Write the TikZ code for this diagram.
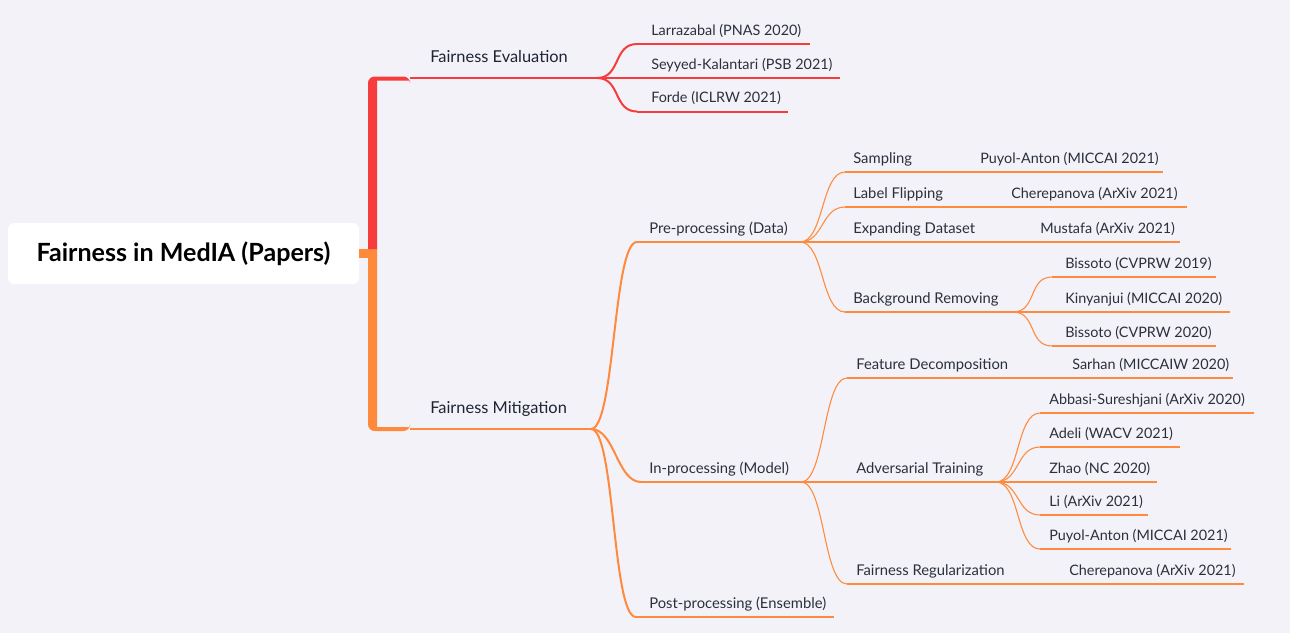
\documentclass[tikz,border=0pt]{standalone}
\usepackage{fontspec}
\setmainfont{Lato}
\usepackage{tikz}
\usetikzlibrary{calc}
\definecolor{mapbg}{HTML}{F3F2F8}
\definecolor{evalred}{HTML}{F63C3C}
\definecolor{mitorange}{HTML}{FF8A3B}
\definecolor{topicink}{HTML}{1D2434}
\definecolor{leafink}{HTML}{2B303C}
% underlined topic: line style, text style, name, x from, x to, y, text x, text
\newcommand{\topic}[8]{%
  \coordinate (#3A) at (#4,#6);
  \coordinate (#3B) at (#5,#6);
  \draw[#1] (#3A) -- (#3B);
  \node[#2] (#3) at (#7,#6) {#8};}
% curved link from a branch point to the start of a child line
\newcommand{\curvelink}[3][]{%
  \draw[#1] (#2) .. controls ($(#2)+(24,0)$) and ($(#3)-(24,0)$) .. (#3);}

\begin{document}
\begin{tikzpicture}[x=0.75pt, y=-0.75pt,
    rootbox/.style={fill=white, rounded corners=4.5pt, inner sep=0pt,
      minimum width=263.25pt, minimum height=45.75pt,
      font=\fontsize{18.8}{22}\selectfont\bfseries, text=black},
    mainlbl/.style={anchor=base west, inner sep=0pt, yshift=11.6pt,
      font=\fontsize{12.3}{14}\selectfont, text=topicink},
    lbl/.style={anchor=base west, inner sep=0pt, yshift=6.4pt,
      font=\fontsize{11.1}{13}\selectfont, text=leafink},
    paper/.style={lbl, font=\fontsize{10.8}{13}\selectfont},
    redline/.style={evalred, line width=1.5pt},
    orline/.style={mitorange, line width=1.5pt},
    orthin/.style={mitorange, line width=0.8pt}]

  \fill[mapbg] (0,0) rectangle (1290,633);

  % root
  \node[rootbox] (root) at (183.5,253.5) {Fairness in MedIA (Papers)};

  % trunks
  \draw[mitorange, line width=6.75pt] (root.east) -- ++(18,0);
  \fill[evalred] (368,249.3) [rounded corners=5pt] -- (368,76.5) -- (410,76.5)
    [sharp corners] -- (410,80.5) -- (377,80.5) -- (377,249.3) -- cycle;
  \fill[mitorange] (368,249.3) [rounded corners=5pt] -- (368,431) -- (410,431)
    [sharp corners] -- (410,427) -- (377,427) -- (377,249.3) -- cycle;

  % Fairness Evaluation
  \topic{redline}{mainlbl}{eval}{410}{597}{78}{430}{Fairness Evaluation}
  \topic{redline}{paper}{lar}{637}{810}{44}{651}{Larrazabal (PNAS 2020)}
  \topic{redline}{paper}{sey}{597}{840}{78}{651}{Seyyed-Kalantari (PSB 2021)}
  \topic{redline}{paper}{forde}{637}{788}{111.5}{651}{Forde (ICLRW 2021)}
  \curvelink[redline]{evalB}{larA}
  \curvelink[redline]{evalB}{fordeA}

  % Fairness Mitigation
  \topic{orline}{mainlbl}{mitig}{410}{591}{429}{430}{Fairness Mitigation}
  \topic{orline}{lbl}{pre}{637}{800}{242}{649}{Pre-processing (Data)}
  \topic{orline}{lbl}{inp}{641}{801}{482}{649}{In-processing (Model)}
  \topic{orline}{lbl}{post}{636}{834}{617}{649}{Post-processing (Ensemble)}
  \curvelink[orline]{mitigB}{preA}
  \curvelink[orline]{mitigB}{inpA}
  \curvelink[orline]{mitigB}{postA}

  % pre-processing
  \topic{orthin}{lbl}{samp}{845}{972}{172}{853}{Sampling}
  \topic{orthin}{paper}{sampL}{972}{1163}{172}{980}{Puyol-Anton (MICCAI 2021)}
  \topic{orthin}{lbl}{flip}{845}{1003}{207}{853}{Label Flipping}
  \topic{orthin}{paper}{flipL}{1003}{1187}{207}{1011}{Cherepanova (ArXiv 2021)}
  \topic{orthin}{lbl}{expd}{800}{1032}{242}{853}{Expanding Dataset}
  \topic{orthin}{paper}{expdL}{1032}{1180}{242}{1040}{Mustafa (ArXiv 2021)}
  \topic{orthin}{lbl}{bgr}{845}{1013}{312}{853}{Background Removing}
  \topic{orthin}{paper}{bis19}{1052}{1216}{277}{1065}{Bissoto (CVPRW 2019)}
  \topic{orthin}{paper}{kin}{1013}{1230}{312}{1065}{Kinyanjui (MICCAI 2020)}
  \topic{orthin}{paper}{bis20}{1052}{1216}{346}{1065}{Bissoto (CVPRW 2020)}
  \curvelink[orthin]{preB}{sampA}
  \curvelink[orthin]{preB}{flipA}
  \curvelink[orthin]{preB}{bgrA}
  \curvelink[orthin]{bgrB}{bis19A}
  \curvelink[orthin]{bgrB}{bis20A}

  % in-processing
  \topic{orthin}{lbl}{feat}{847}{1064}{378}{856}{Feature Decomposition}
  \topic{orthin}{paper}{featL}{1064}{1233}{378}{1072}{Sarhan (MICCAIW 2020)}
  \topic{orthin}{lbl}{adv}{801}{996}{482}{856}{Adversarial Training}
  \topic{orthin}{paper}{abb}{1040}{1254}{413}{1049}{Abbasi-Sureshjani (ArXiv 2020)}
  \topic{orthin}{paper}{ade}{1040}{1180}{447}{1049}{Adeli (WACV 2021)}
  \topic{orthin}{paper}{zha}{996}{1157}{482}{1049}{Zhao (NC 2020)}
  \topic{orthin}{paper}{lia}{1040}{1148}{515}{1049}{Li (ArXiv 2021)}
  \topic{orthin}{paper}{puy}{1040}{1231}{549}{1049}{Puyol-Anton (MICCAI 2021)}
  \topic{orthin}{lbl}{reg}{847}{1061}{584}{856}{Fairness Regularization}
  \topic{orthin}{paper}{regL}{1061}{1244}{584}{1069}{Cherepanova (ArXiv 2021)}
  \curvelink[orthin]{inpB}{featA}
  \curvelink[orthin]{inpB}{regA}
  \curvelink[orthin]{advB}{abbA}
  \curvelink[orthin]{advB}{adeA}
  \curvelink[orthin]{advB}{liaA}
  \curvelink[orthin]{advB}{puyA}
\end{tikzpicture}
\end{document}
